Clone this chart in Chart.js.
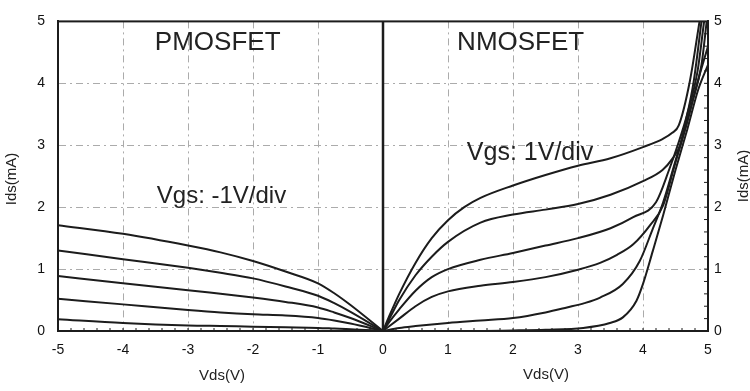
<!DOCTYPE html>
<html>
<head>
<meta charset="utf-8">
<script src="https://cdn.jsdelivr.net/npm/chart.js@4.4.1/dist/chart.umd.min.js"></script>
<style>
  html, body { margin: 0; padding: 0; background: #fff; }
  #wrap { width: 750px; height: 391px; position: relative; }
</style>
</head>
<body>
<div id="wrap"><canvas id="iv-chart"></canvas></div>
<script>
// ─── 軸目盛 ────────────────────────────────────────────
const VDS_TICKS = [-5, -4, -3, -2, -1, 0, 1, 2, 3, 4, 5];
const IDS_TICKS = [0, 1, 2, 3, 4, 5];

// ─── PMOSFET (Vgs: -1V/div) ─────────────────────────────
const PMOS_VDS   = [-5, -4, -3, -2.5, -2, -1.5, -1, -0.75, -0.5, 0];
const PMOS_IDS_1 = [1.71, 1.57, 1.38, 1.27, 1.13, 0.96, 0.77, 0.61, 0.42, 0];
const PMOS_IDS_2 = [1.30, 1.16, 1.02, 0.94, 0.85, 0.72, 0.57, 0.45, 0.31, 0];
const PMOS_IDS_3 = [0.89, 0.77, 0.66, 0.60, 0.54, 0.47, 0.38, 0.30, 0.21, 0];
const PMOS_IDS_4 = [0.52, 0.43, 0.34, 0.30, 0.27, 0.25, 0.21, 0.17, 0.12, 0];
const PMOS_IDS_5 = [0.19, 0.13, 0.09, 0.08, 0.07, 0.06, 0.05, 0.04, 0.03, 0];

// ─── NMOSFET (Vgs: 1V/div) ──────────────────────────────
const NMOS_VDS_1 = [0, 0.1, 0.25, 0.5, 0.75, 1, 1.25, 1.5, 2, 2.5, 3, 3.5, 4, 4.3, 4.45, 4.55, 4.72, 4.87];
const NMOS_IDS_1 = [0, 0.25, 0.6, 1.1, 1.5, 1.79, 2.0, 2.15, 2.35, 2.52, 2.67, 2.79, 2.97, 3.1, 3.2, 3.32, 4.03, 5.0];
const NMOS_VDS_2 = [0, 0.1, 0.25, 0.5, 0.75, 1, 1.5, 2, 2.5, 3, 3.5, 4, 4.3, 4.45, 4.57, 4.65, 4.78, 4.9];
const NMOS_IDS_2 = [0, 0.2, 0.5, 0.9, 1.2, 1.44, 1.75, 1.88, 1.96, 2.05, 2.2, 2.42, 2.6, 2.78, 3.0, 3.35, 4.03, 5.0];
const NMOS_VDS_3 = [0, 0.1, 0.25, 0.5, 0.75, 1, 1.5, 2, 2.5, 3, 3.5, 3.85, 4.2, 4.4, 4.55, 4.68, 4.84, 4.94];
const NMOS_IDS_3 = [0, 0.15, 0.35, 0.65, 0.87, 1.0, 1.15, 1.26, 1.38, 1.5, 1.66, 1.84, 2.08, 2.6, 3.05, 3.5, 4.2, 5.0];
const NMOS_VDS_4 = [0, 0.1, 0.25, 0.5, 0.75, 1, 1.5, 2, 2.5, 3, 3.34, 3.6, 3.85, 4.11, 4.31, 4.48, 4.63, 4.76, 4.9, 4.98];
const NMOS_IDS_4 = [0, 0.08, 0.2, 0.4, 0.55, 0.64, 0.73, 0.79, 0.87, 0.99, 1.1, 1.23, 1.4, 1.71, 2.03, 2.65, 3.2, 3.7, 4.3, 5.0];
const NMOS_VDS_5 = [0, 0.25, 0.5, 1, 1.5, 2, 2.5, 2.83, 3.1, 3.34, 3.69, 3.95, 4.15, 4.31, 4.5, 4.66, 4.82, 5.0];
const NMOS_IDS_5 = [0, 0.05, 0.08, 0.13, 0.17, 0.21, 0.3, 0.38, 0.45, 0.54, 0.76, 1.13, 1.65, 2.08, 2.75, 3.3, 3.95, 4.6];
const NMOS_VDS_6 = [0, 1, 2, 2.5, 3.08, 3.49, 3.69, 3.9, 4.0, 4.15, 4.31, 4.5, 4.68, 4.85, 5.0];
const NMOS_IDS_6 = [0, 0, 0.01, 0.02, 0.05, 0.13, 0.22, 0.49, 0.76, 1.29, 1.87, 2.6, 3.25, 3.9, 4.3];

// ─── 注記テキスト ─────────────────────────────────────
const NOTES = [
  { text: 'PMOSFET',      v: -3.51, i: 4.54, size: 26 },
  { text: 'NMOSFET',      v: 1.14,  i: 4.54, size: 26 },
  { text: 'Vgs: -1V/div', v: -3.48, i: 2.06, size: 24 },
  { text: 'Vgs: 1V/div',  v: 1.29,  i: 2.76, size: 25 },
];

const FONT = '"Liberation Sans", Arial, Helvetica, sans-serif';
const INK = '#1c1c1c';

const toPts = (xs, ys) => xs.map((x, k) => ({ x, y: ys[k] }));

const SERIES = [
  toPts(PMOS_VDS, PMOS_IDS_1),
  toPts(PMOS_VDS, PMOS_IDS_2),
  toPts(PMOS_VDS, PMOS_IDS_3),
  toPts(PMOS_VDS, PMOS_IDS_4),
  toPts(PMOS_VDS, PMOS_IDS_5),
  toPts(NMOS_VDS_1, NMOS_IDS_1),
  toPts(NMOS_VDS_2, NMOS_IDS_2),
  toPts(NMOS_VDS_3, NMOS_IDS_3),
  toPts(NMOS_VDS_4, NMOS_IDS_4),
  toPts(NMOS_VDS_5, NMOS_IDS_5),
  toPts(NMOS_VDS_6, NMOS_IDS_6),
];

// 枠・0V線・小目盛・注記・軸タイトル
const overlay = {
  id: 'overlay',
  afterDraw(chart) {
    const { ctx, chartArea: a, scales } = chart;
    const x = scales.x, y = scales.y;
    ctx.save();
    ctx.strokeStyle = INK;

    // 小目盛（右辺・下辺の内側）
    ctx.lineWidth = 1;
    ctx.beginPath();
    for (let k = 1; k < 25; k++) {
      const py = y.getPixelForValue(k * 0.2);
      ctx.moveTo(a.right, py); ctx.lineTo(a.right - 4, py);
    }
    for (let k = 1; k < 50; k++) {
      const px = x.getPixelForValue(-5 + k * 0.2);
      ctx.moveTo(px, a.bottom); ctx.lineTo(px, a.bottom - 3);
    }
    ctx.stroke();

    ctx.lineWidth = 2.5;
    ctx.beginPath();
    ctx.moveTo(x.getPixelForValue(0), a.top);
    ctx.lineTo(x.getPixelForValue(0), a.bottom);
    ctx.stroke();
    ctx.lineWidth = 2;
    ctx.strokeRect(a.left, a.top, a.right - a.left, a.bottom - a.top);

    ctx.fillStyle = '#222';
    ctx.textAlign = 'left';
    ctx.textBaseline = 'alphabetic';
    NOTES.forEach(n => {
      ctx.font = `${n.size}px ${FONT}`;
      ctx.fillText(n.text, x.getPixelForValue(n.v), y.getPixelForValue(n.i));
    });

    ctx.font = `15px ${FONT}`;
    ctx.textAlign = 'center';
    ctx.textBaseline = 'middle';
    ctx.fillText('Vds(V)', 222, 376);
    ctx.fillText('Vds(V)', 546, 375);
    [[12, 179], [744, 176]].forEach(([px, py]) => {
      ctx.save();
      ctx.translate(px, py);
      ctx.rotate(-Math.PI / 2);
      ctx.fillText('Ids(mA)', 0, 0);
      ctx.restore();
    });
    ctx.restore();
  },
};

const tickFont = { family: FONT, size: 14 };
const gridOpts = { color: '#ababab', lineWidth: 1, drawTicks: false };
const borderOpts = { display: true, color: INK, width: 2, dash: [7, 4, 2, 4] };

new Chart(document.getElementById('iv-chart').getContext('2d'), {
  type: 'line',
  data: {
    datasets: SERIES.map(pts => ({
      data: pts,
      borderColor: INK,
      borderWidth: 2,
      pointRadius: 0,
      fill: false,
      cubicInterpolationMode: 'monotone',
      yAxisID: 'y',
    })),
  },
  options: {
    responsive: true,
    maintainAspectRatio: false,
    animation: false,
    layout: { padding: { top: 15, left: 0, right: 0, bottom: 0 } },
    plugins: { legend: { display: false }, tooltip: { enabled: false } },
    scales: {
      x: {
        type: 'linear', min: -5, max: 5,
        afterBuildTicks: s => { s.ticks = VDS_TICKS.map(v => ({ value: v })); },
        ticks: { color: '#111', font: tickFont, padding: 11, maxRotation: 0 },
        grid: gridOpts, border: borderOpts,
        afterFit: s => { s.height = 60; },
      },
      y: {
        position: 'left', min: 0, max: 5,
        afterBuildTicks: s => { s.ticks = IDS_TICKS.map(v => ({ value: v })); },
        ticks: { color: '#111', font: tickFont, padding: 13 },
        grid: gridOpts, border: borderOpts,
        afterFit: s => { s.width = 58; },
      },
      y2: {
        position: 'right', min: 0, max: 5,
        afterBuildTicks: s => { s.ticks = IDS_TICKS.map(v => ({ value: v })); },
        ticks: { color: '#111', font: tickFont, padding: 6 },
        grid: { drawOnChartArea: false, drawTicks: false },
        border: borderOpts,
        afterFit: s => { s.width = 42; },
      },
    },
  },
  plugins: [overlay],
});
</script>
</body>
</html>
